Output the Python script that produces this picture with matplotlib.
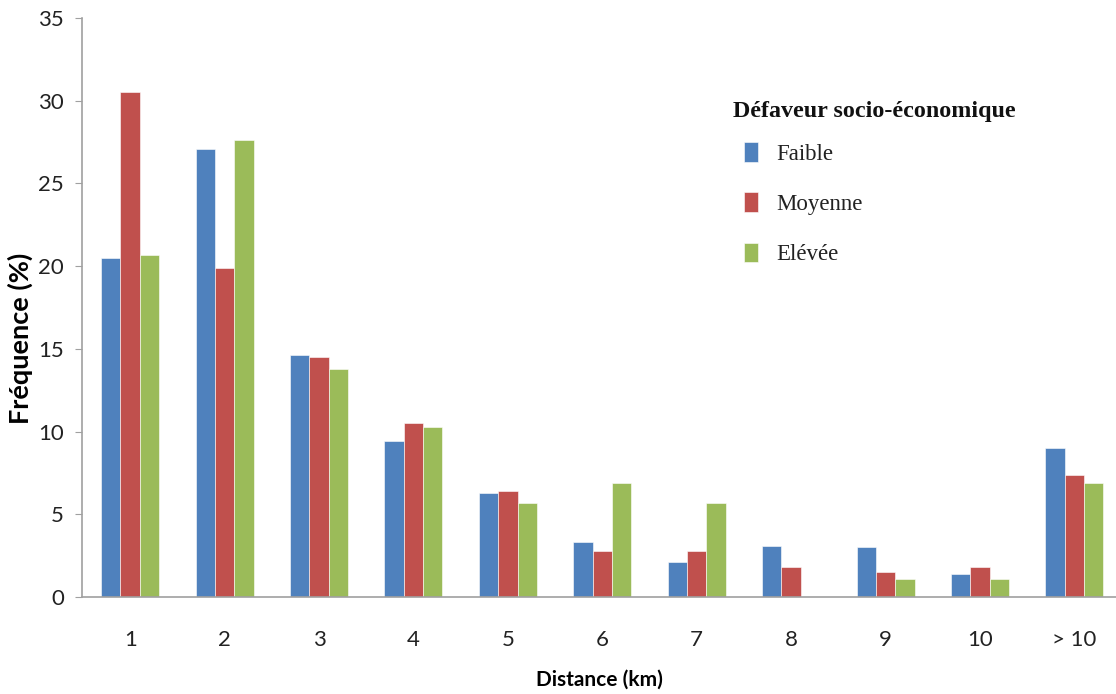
import matplotlib
matplotlib.use("Agg")
import matplotlib.pyplot as plt
import numpy as np

categories = ["1", "2", "3", "4", "5", "6", "7", "8", "9", "10", "> 10"]
faible = [20.5, 27.1, 14.6, 9.4, 6.3, 3.3, 2.1, 3.1, 3.0, 1.4, 9.0]
moyenne = [30.5, 19.9, 14.5, 10.5, 6.4, 2.8, 2.8, 1.8, 1.5, 1.8, 7.4]
elevee = [20.7, 27.6, 13.8, 10.3, 5.7, 6.9, 5.7, 0.0, 1.1, 1.1, 6.9]
series_names = ["Faible", "Moyenne", "Elévée"]
colors = ["#4F81BD", "#C0504D", "#9BBB59"]

W, H = 1116, 694
fig = plt.figure(figsize=(W / 100, H / 100), dpi=100)
ax = fig.add_axes([82 / W, 97 / H, (W - 82) / W, (597 - 18) / H])

x = np.arange(len(categories))
bw = 0.205
for i, (vals, name, c) in enumerate(zip([faible, moyenne, elevee], series_names, colors)):
    ax.bar(x + (i - 1) * bw, vals, width=bw, color=c, label=name,
           edgecolor="white", linewidth=0.4)

ax.set_xlim(-0.51, 10.44)
ax.set_ylim(0, 35)
ax.set_yticks(range(0, 36, 5))
ax.set_xticks(x)
ax.set_xticklabels(categories)

for s in ["top", "right"]:
    ax.spines[s].set_visible(False)
for s in ["left", "bottom"]:
    ax.spines[s].set_color("#A0A0A0")
    ax.spines[s].set_linewidth(1.2)

ax.tick_params(axis="y", direction="out", length=5, color="#A0A0A0",
               labelsize=16, pad=8, labelcolor="#222222")
ax.tick_params(axis="x", length=0, labelsize=16, pad=24, labelcolor="#222222")
for lab in ax.get_xticklabels() + ax.get_yticklabels():
    lab.set_fontfamily("Lato")

ax.set_ylabel("Fréquence (%)", fontsize=19.5, fontweight="bold", fontfamily="Lato")
ax.yaxis.set_label_coords((33 - 82) / (W - 82), (597 - 338) / (597 - 18))
ax.set_xlabel("Distance (km)", fontsize=15, fontweight="bold", fontfamily="Lato",
              labelpad=14)

fig.text(733 / W, 1 - 112 / H, "Défaveur socio-économique", ha="left", va="center",
         fontfamily="Liberation Serif", fontweight="bold", fontsize=17.3,
         color="#111111")

leg = ax.legend(loc="upper left",
                bbox_to_anchor=(744 / W, 1 - 142 / H), bbox_transform=fig.transFigure,
                frameon=False, prop={"family": "Liberation Serif", "size": 16.5},
                handlelength=0.6, handleheight=0.95, handletextpad=0.8,
                labelspacing=1.2, borderaxespad=0, borderpad=0)
for t in leg.get_texts():
    t.set_color("#222222")

fig.savefig("out.png", dpi=100, facecolor="white")
